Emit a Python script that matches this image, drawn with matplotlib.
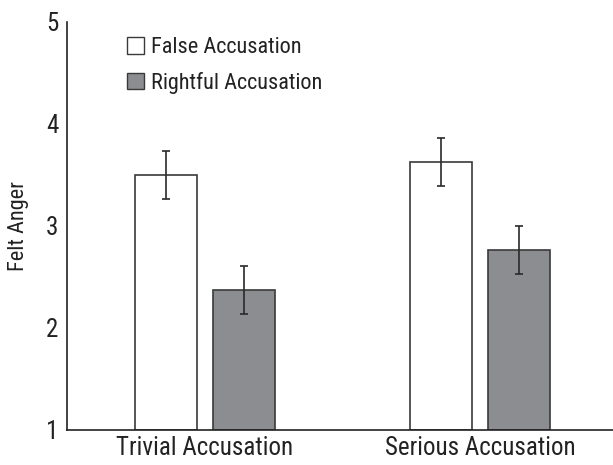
import matplotlib
matplotlib.use("Agg")
import matplotlib.pyplot as plt
from matplotlib.patches import Patch
import numpy as np

categories = ["Trivial Accusation", "Serious Accusation"]
series_names = ["False Accusation", "Rightful Accusation"]
false_vals = [3.50, 3.63]
rightful_vals = [2.37, 2.76]
false_err = [0.235, 0.235]
rightful_err = [0.235, 0.235]
yticks = [1, 2, 3, 4, 5]

plt.rcParams['font.family'] = ['Liberation Sans Narrow', 'Roboto Condensed', 'Archivo Narrow', 'DejaVu Sans']

fig = plt.figure(figsize=(6.13, 4.65), dpi=100)
ax = fig.add_axes([0.1088, 0.0753, 1.0 - 0.1088, 0.9533 - 0.0753])

x = np.arange(len(categories))
w = 0.2255
off = 0.1425
edge = "#3a3a3a"
ekw = dict(ecolor="#2a2a2a", elinewidth=1.2, capsize=2.8, capthick=1.2)
ax.bar(x - off, np.array(false_vals) - 1, w, bottom=1, color="white", edgecolor=edge, linewidth=1.2,
       yerr=false_err, error_kw=ekw)
ax.bar(x + off, np.array(rightful_vals) - 1, w, bottom=1, color="#8c8d90", edgecolor=edge, linewidth=1.2,
       yerr=rightful_err, error_kw=ekw)

ax.set_xlim(-0.502, 1.484)
ax.set_ylim(1, 5)
ax.set_yticks(yticks)
ax.set_yticklabels([str(t) for t in yticks], fontsize=18, color="#222222")
ax.set_xticks(x)
ax.set_xticklabels(categories, fontsize=18, color="#222222")
ax.tick_params(axis="both", length=0)
ax.tick_params(axis="x", pad=4)
ax.tick_params(axis="y", pad=6)
for s in ["top", "right"]:
    ax.spines[s].set_visible(False)
for s in ["left", "bottom"]:
    ax.spines[s].set_color("#222222")
    ax.spines[s].set_linewidth(1.2)
ax.set_ylabel("Felt Anger", fontsize=16, color="#222222", labelpad=12)

handles = [Patch(facecolor="white", edgecolor=edge, linewidth=1.0),
           Patch(facecolor="#8c8d90", edgecolor=edge, linewidth=1.0)]
ax.legend(handles, series_names, loc="upper left", bbox_to_anchor=(0.082, 1.0), frameon=False,
          fontsize=16, handlelength=0.75, handleheight=0.75, handletextpad=0.35, labelspacing=0.6,
          borderaxespad=0.3, labelcolor="#222222")

fig.savefig("out.png", dpi=100)
